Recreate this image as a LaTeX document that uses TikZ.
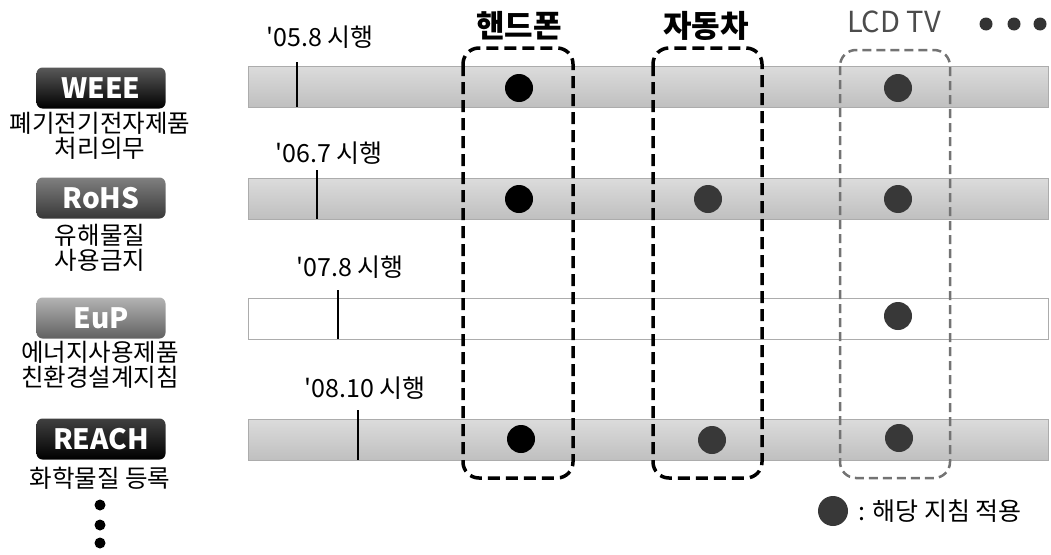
\documentclass[tikz,border=0pt]{standalone}
\usepackage{fontspec}
\setmainfont{Noto Sans CJK KR}
\newcommand{\fsz}[1]{\fontsize{#1}{#1}\selectfont}

\begin{document}
\begin{tikzpicture}[x=1pt,y=-1pt,
  bar/.style={rectangle,minimum width=800pt,minimum height=41pt,inner sep=0pt,draw=gray!65,top color=gray!28,bottom color=gray!50},
  badge/.style={rectangle,rounded corners=6pt,minimum width=129pt,minimum height=41pt,inner sep=0pt,text=white,font={\fsz{28}\bfseries}},
  captext/.style={align=center,inner sep=0pt,font={\fontsize{24.5}{25.5}\selectfont}},
  datetext/.style={inner sep=0pt,font=\fsz{25}},
  headtext/.style={inner sep=0pt,font={\fsz{31}\bfseries}},
  tickline/.style={line width=2.5pt},
  hit/.style={circle,minimum size=28pt,inner sep=0pt,fill=black},
  hitgray/.style={hit,fill=black!78},
  pick/.style={line width=3.5pt,dash pattern=on 12pt off 6pt,rounded corners=16pt},
  picklight/.style={pick,line width=2.5pt,draw=black!55,dash pattern=on 9pt off 5pt},
  moredot/.style={circle,minimum size=13pt,inner sep=0pt,fill=black!80}]
\useasboundingbox (0,0) rectangle (1051,554);

% directives
\node[badge,top color=black!65,bottom color=black] (weee) at (101,88) {WEEE};
\node[captext] (weeecap) at (100,136) {폐기전기전자제품\\처리의무};
\node[badge,top color=black!50,bottom color=black!78] (rohs) at (101,198) {RoHS};
\node[captext] (rohscap) at (100,248) {유해물질\\사용금지};
\node[badge,top color=black!30,bottom color=black!62] (eup) at (101,318) {EuP};
\node[captext] (eupcap) at (100,365) {에너지사용제품\\친환경설계지침};
\node[badge,top color=black!75,bottom color=black] (reach) at (101,439) {REACH};
\node[captext] (reachcap) at (100,478) {화학물질 등록};
\node[moredot,fill=black,minimum size=11pt] (vdot1) at (100,505) {};
\node[moredot,fill=black,minimum size=11pt] (vdot2) at (100,525) {};
\node[moredot,fill=black,minimum size=11pt] (vdot3) at (100,543) {};

% timelines
\node[bar] (bar1) at (648,87) {};
\node[bar] (bar2) at (648,199) {};
\node[bar,fill=white,top color=white,bottom color=white] (bar3) at (648,319) {};
\node[bar] (bar4) at (648,440) {};
\draw[tickline] (297,62) -- (297,107);
\draw[tickline] (317,170) -- (317,219);
\draw[tickline] (338,290) -- (338,339);
\draw[tickline] (358,410) -- (358,460);
\node[datetext] (d05) at (320,37) {\textquotesingle05.8 시행};
\node[datetext] (d06) at (329,153) {\textquotesingle06.7 시행};
\node[datetext] (d07) at (350,267) {\textquotesingle07.8 시행};
\node[datetext] (d08) at (365,388) {\textquotesingle08.10 시행};

% products
\node[headtext] (phone) at (519,26) {핸드폰};
\node[headtext] (car) at (706,26) {자동차};
\node[inner sep=0pt,font=\fsz{29},text=black!70] (lcd) at (894,22) {LCD TV};
\node[moredot] (hdot1) at (986,24) {};
\node[moredot] (hdot2) at (1014,24) {};
\node[moredot] (hdot3) at (1040,24) {};

\node[hit] (h11) at (519,88) {};
\node[hitgray] (h13) at (898,88) {};
\node[hit] (h21) at (519,199) {};
\node[hitgray] (h22) at (708,199) {};
\node[hitgray] (h23) at (898,199) {};
\node[hitgray] (h33) at (898,316) {};
\node[hit] (h41) at (521,439) {};
\node[hitgray] (h42) at (712,440) {};
\node[hitgray] (h43) at (899,438) {};

\draw[pick] (463,48) rectangle (573,478);
\draw[pick] (653,48) rectangle (762,478);
\draw[picklight] (840,50) rectangle (950,478);

% legend
\node[hitgray,minimum size=30pt] (key) at (833,511) {};
\node[inner sep=0pt,anchor=west,font=\fsz{25}] (keytext) at (858,511) {: 해당 지침 적용};
\end{tikzpicture}
\end{document}
